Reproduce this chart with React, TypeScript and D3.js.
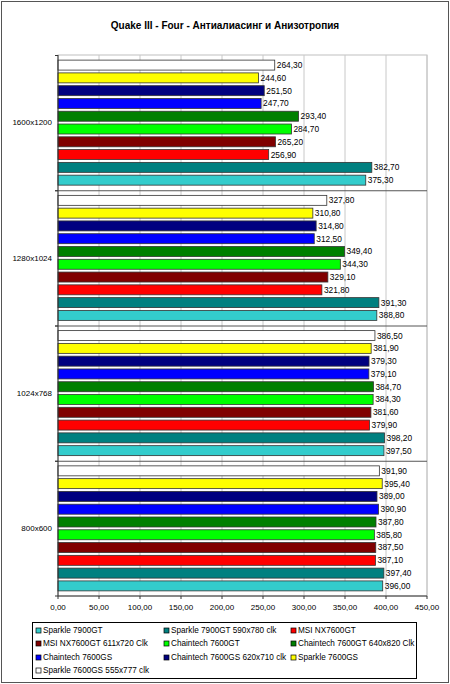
import * as d3 from "d3"

const title = "Quake III - Four - Антиалиасинг и Анизотропия"

const resolutions = ["1600x1200", "1280x1024", "1024x768", "800x600"]

const seriesNames = [
  "Sparkle 7900GT",
  "Sparkle 7900GT 590x780 clk",
  "MSI NX7600GT",
  "MSI NX7600GT 611x720 Clk",
  "Chaintech 7600GT",
  "Chaintech 7600GT 640x820 Clk",
  "Chaintech 7600GS",
  "Chaintech 7600GS 620x710 clk",
  "Sparkle 7600GS",
  "Sparkle 7600GS 555x777 clk",
]

const seriesColors = [
  "#33CCCC",
  "#008080",
  "#FF0000",
  "#800000",
  "#00FF00",
  "#008000",
  "#0000FF",
  "#000080",
  "#FFFF00",
  "#FFFFFF",
]

// values per series, in resolution order
const sparkle7900 = [375.3, 388.8, 397.5, 396.0]
const sparkle7900oc = [382.7, 391.3, 398.2, 397.4]
const msi7600gt = [256.9, 321.8, 379.9, 387.1]
const msi7600gtOc = [265.2, 329.1, 381.6, 387.5]
const chaintech7600gt = [284.7, 344.3, 384.3, 385.8]
const chaintech7600gtOc = [293.4, 349.4, 384.7, 387.8]
const chaintech7600gs = [247.7, 312.5, 379.1, 390.9]
const chaintech7600gsOc = [251.5, 314.8, 379.3, 389.0]
const sparkle7600gs = [244.6, 310.8, 381.9, 395.4]
const sparkle7600gsOc = [264.3, 327.8, 386.5, 391.9]

const seriesValues = [
  sparkle7900,
  sparkle7900oc,
  msi7600gt,
  msi7600gtOc,
  chaintech7600gt,
  chaintech7600gtOc,
  chaintech7600gs,
  chaintech7600gsOc,
  sparkle7600gs,
  sparkle7600gsOc,
]

const xTicks = [0, 50, 100, 150, 200, 250, 300, 350, 400, 450]

const W = 450
const H = 684
const plot = { left: 58, right: 427, top: 55, bottom: 596 }
const font = "'Liberation Sans', Arial, sans-serif"
const fmt = (v: number) => v.toFixed(2).replace(".", ",")

export default function App() {
  const x = d3.scaleLinear().domain([0, 450]).range([plot.left, plot.right])
  const yGroup = d3
    .scaleBand<string>()
    .domain(resolutions)
    .range([plot.top, plot.bottom])
    .padding(0)
  // bars inside a group: top is the last series, bottom is the first
  const barOrder = d3.range(seriesNames.length).reverse().map(String)
  const yBar = d3
    .scaleBand<string>()
    .domain(barOrder)
    .range([0, yGroup.bandwidth()])
    .paddingInner(0.22)
    .paddingOuter(0.4)

  const legendCols = [36, 164, 291]
  const legendRows = [630.5, 643.5, 657.5, 670.5]

  return (
    <div style={{ position: "absolute", left: 0, top: 0 }}>
      <svg width={W} height={H} style={{ display: "block", fontFamily: font }}>
        <rect x={0} y={0} width={W} height={H} fill="#fff" />
        <rect x={1.5} y={1.5} width={W - 3} height={H - 3} fill="none" stroke="#555" />

        <text x={225} y={29} textAnchor="middle" fontSize={10} fontWeight="bold" fill="#000">
          {title}
        </text>

        {/* plot frame and grid */}
        <rect
          x={plot.left}
          y={plot.top}
          width={plot.right - plot.left}
          height={plot.bottom - plot.top}
          fill="#fff"
          stroke="#c0c0c0"
        />
        {xTicks.slice(1).map((t) => (
          <line key={t} x1={x(t)} x2={x(t)} y1={plot.top} y2={plot.bottom} stroke="#c8c8c8" />
        ))}

        {/* group separators */}
        {resolutions.slice(1).map((r) => (
          <line
            key={r}
            x1={plot.left - 3}
            x2={plot.right}
            y1={yGroup(r)! + 0.5}
            y2={yGroup(r)! + 0.5}
            stroke="#555"
          />
        ))}

        {/* bars */}
        {resolutions.map((r, gi) => (
          <g key={r} transform={`translate(0,${yGroup(r)})`}>
            {seriesValues.map((vals, si) => {
              const y0 = yBar(String(si))!
              const v = vals[gi]
              return (
                <g key={si}>
                  <rect
                    x={x(0)}
                    y={y0}
                    width={x(v) - x(0)}
                    height={yBar.bandwidth()}
                    fill={seriesColors[si]}
                    stroke="#333"
                    strokeWidth={0.8}
                  />
                  <text
                    x={x(v) + 2}
                    y={y0 + yBar.bandwidth() / 2}
                    dy="0.35em"
                    fontSize={8.4}
                    fill="#000"
                  >
                    {fmt(v)}
                  </text>
                </g>
              )
            })}
            <text
              x={52}
              y={yGroup.bandwidth() / 2}
              dy="0.35em"
              textAnchor="end"
              fontSize={8}
              fill="#000"
            >
              {r}
            </text>
          </g>
        ))}

        {/* axes */}
        <line x1={plot.left} x2={plot.left} y1={plot.top} y2={plot.bottom} stroke="#333" />
        {resolutions.map((r) => (
          <line
            key={r}
            x1={plot.left - 3}
            x2={plot.left}
            y1={yGroup(r)! + 0.5}
            y2={yGroup(r)! + 0.5}
            stroke="#333"
          />
        ))}
        <line x1={plot.left - 3} x2={plot.left} y1={plot.bottom} y2={plot.bottom} stroke="#333" />
        <line x1={plot.left} x2={plot.right} y1={plot.bottom} y2={plot.bottom} stroke="#333" />
        {xTicks.map((t) => (
          <g key={t}>
            <line x1={x(t)} x2={x(t)} y1={plot.bottom} y2={plot.bottom + 3} stroke="#333" />
            <text x={x(t)} y={607} dy="0.35em" textAnchor="middle" fontSize={8} fill="#000">
              {fmt(t)}
            </text>
          </g>
        ))}

        {/* legend */}
        <rect x={32.5} y={622.5} width={384} height={56} fill="#fff" stroke="#000" />
        {seriesNames.map((name, i) => {
          const cx = legendCols[i % 3]
          const cy = legendRows[Math.floor(i / 3)]
          return (
            <g key={name}>
              <rect
                x={cx}
                y={cy - 2.5}
                width={5}
                height={5}
                fill={seriesColors[i]}
                stroke="#000"
                strokeWidth={0.7}
              />
              <text x={cx + 7} y={cy} dy="0.35em" fontSize={8.2} fill="#000">
                {name}
              </text>
            </g>
          )
        })}
      </svg>
    </div>
  )
}
